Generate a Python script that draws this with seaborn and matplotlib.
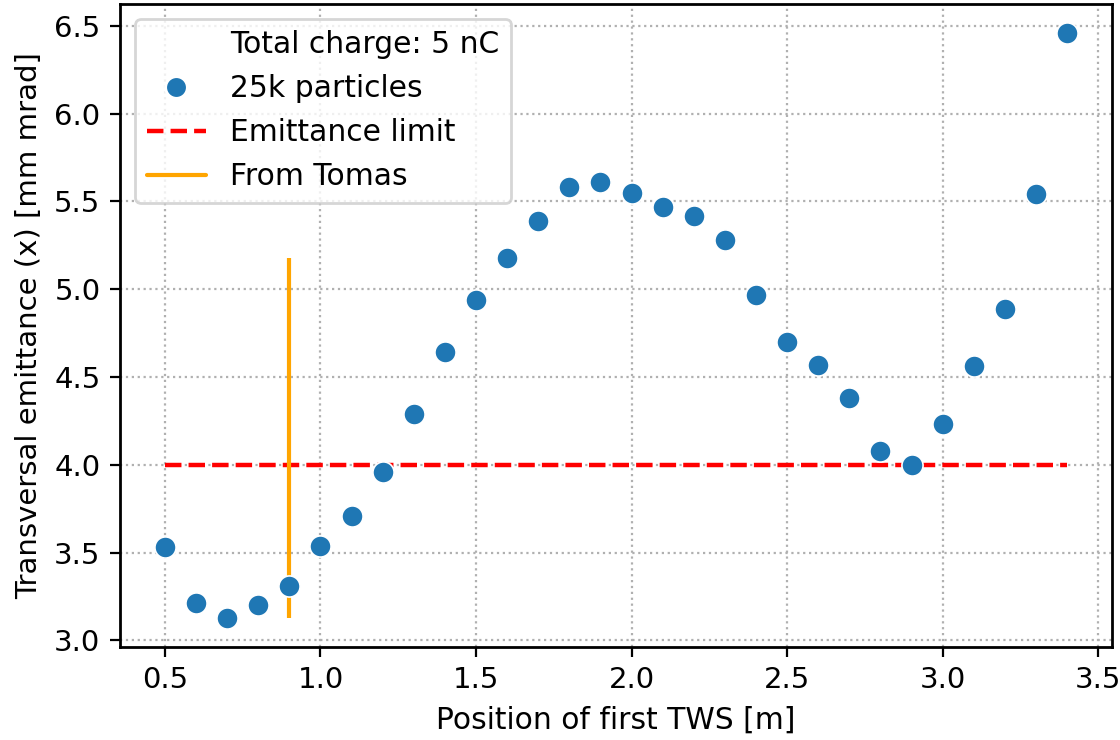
import numpy as np
import pandas as pd
import matplotlib
matplotlib.use("Agg")
import matplotlib.pyplot as plt
import seaborn as sns
from matplotlib.lines import Line2D

# Scan of the first TWS position and resulting horizontal emittance
position_m = [0.5, 0.6, 0.7, 0.8, 0.9, 1.0, 1.1, 1.2, 1.3, 1.4,
              1.5, 1.6, 1.7, 1.8, 1.9, 2.0, 2.1, 2.2, 2.3, 2.4,
              2.5, 2.6, 2.7, 2.8, 2.9, 3.0, 3.1, 3.2, 3.3, 3.4]
emittance_x = [3.53, 3.21, 3.13, 3.20, 3.31, 3.54, 3.71, 3.96, 4.29, 4.64,
               4.94, 5.18, 5.39, 5.58, 5.61, 5.55, 5.47, 5.42, 5.28, 4.97,
               4.70, 4.57, 4.38, 4.08, 4.00, 4.23, 4.56, 4.89, 5.54, 6.46]

emittance_limit = 4.0
tomas_position = 0.9
tomas_top = 5.18

sns.set_style("ticks", rc={"text.color": "black", "axes.labelcolor": "black",
                           "xtick.color": "black", "ytick.color": "black",
                           "axes.edgecolor": "black"})
plt.rcParams["font.family"] = ["DejaVu Sans"]

df = pd.DataFrame({"pos": position_m, "emit": emittance_x})

fig, ax = plt.subplots(figsize=(5.6, 3.7), dpi=200)
fig.subplots_adjust(left=0.107, right=0.993, top=0.995, bottom=0.126)

sns.scatterplot(data=df, x="pos", y="emit", ax=ax, s=58, color="#1f77b4",
                edgecolor="white", linewidth=0.6, zorder=3)
ax.hlines(emittance_limit, min(position_m), max(position_m), colors="red",
          linestyles="--", linewidth=1.6, zorder=2)
ax.vlines(tomas_position, min(emittance_x), tomas_top, colors="orange",
          linewidth=1.5, zorder=2)

ax.grid(True, linestyle=":", color="#b0b0b0", linewidth=0.8)
ax.set_xlabel("Position of first TWS [m]", fontsize=10.7)
ax.set_ylabel("Transversal emittance (x) [mm mrad]", fontsize=10.5)
ax.tick_params(labelsize=10.5)
ax.set_xticks([0.5, 1.0, 1.5, 2.0, 2.5, 3.0, 3.5])
ax.set_yticks([3.0, 3.5, 4.0, 4.5, 5.0, 5.5, 6.0, 6.5])
for sp in ax.spines.values():
    sp.set_color("black")
    sp.set_linewidth(1.0)

handles = [
    Line2D([], [], linestyle="none", marker=None),
    Line2D([], [], linestyle="none", marker="o", markersize=7.8,
           markerfacecolor="#1f77b4", markeredgecolor="white"),
    Line2D([], [], color="red", linestyle="--", linewidth=1.6),
    Line2D([], [], color="orange", linewidth=1.5),
]
labels = ["Total charge: 5 nC", "25k particles", "Emittance limit", "From Tomas"]
ax.legend(handles, labels, loc="upper left", fontsize=10.7, frameon=True)

fig.savefig("out.png", dpi=200)
